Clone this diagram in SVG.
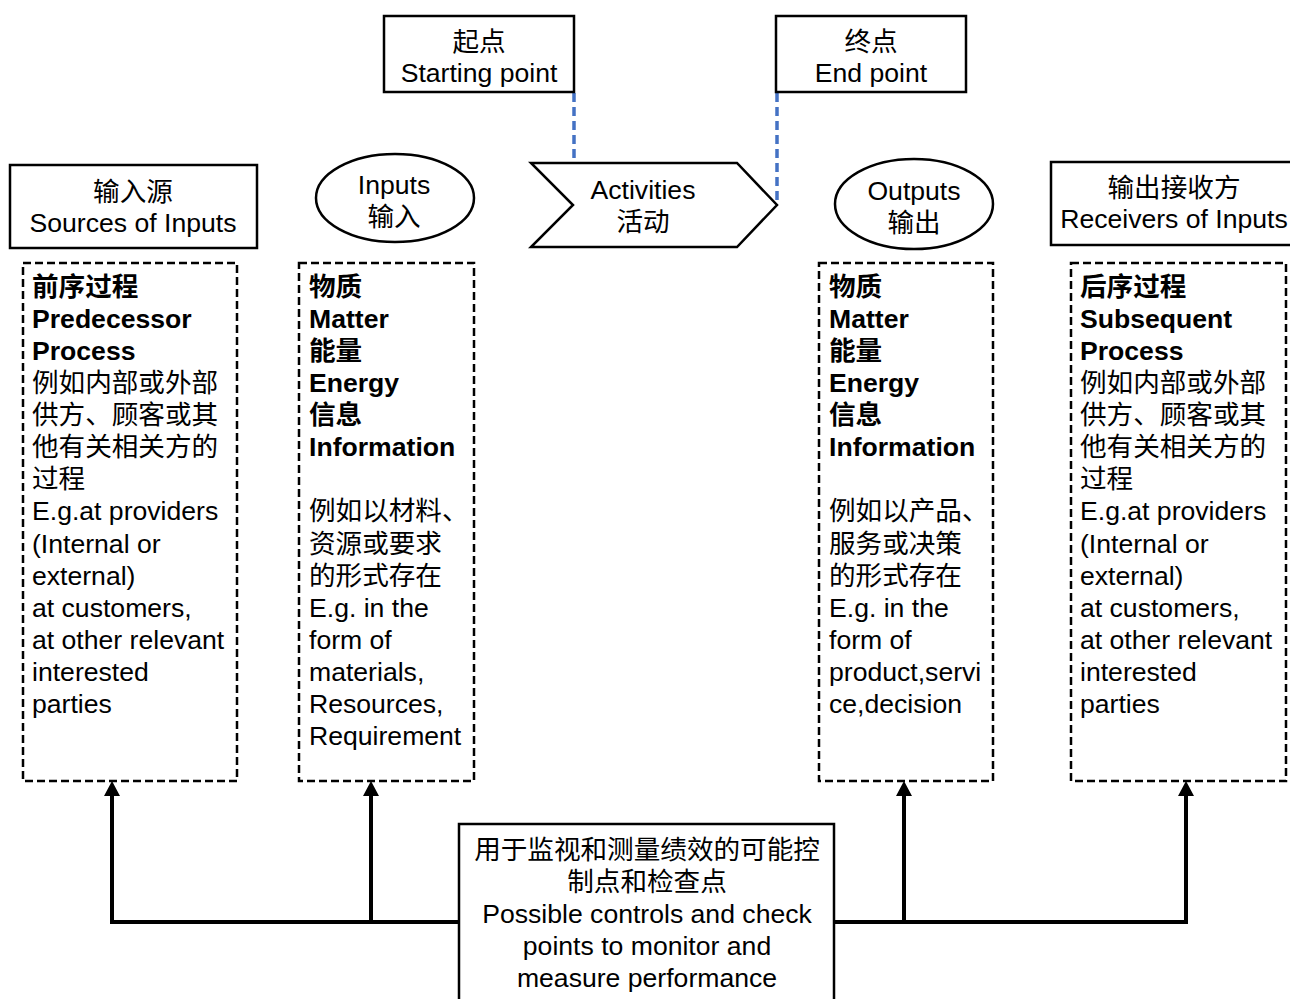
<svg xmlns="http://www.w3.org/2000/svg" width="1290" height="999" viewBox="0 0 1290 999">
<style>
text{font-family:"Liberation Sans","Noto Sans CJK SC",Arial,sans-serif;font-size:26.6px;fill:#000}
.c{text-anchor:middle}
.b{font-weight:bold}
.box{fill:#fff;stroke:#000;stroke-width:2.5}
.dash{fill:#fff;stroke:#000;stroke-width:2.5;stroke-dasharray:8 4}
.blue{fill:none;stroke:#4472c4;stroke-width:3.5;stroke-dasharray:9 5}
.conn{fill:none;stroke:#000;stroke-width:4}
</style>
<defs>
<marker id="ah" markerUnits="userSpaceOnUse" markerWidth="16" markerHeight="16" refX="0" refY="8" orient="auto" viewBox="0 0 16 16">
<path d="M0,0 L15,8 L0,16 z" fill="#000"/>
</marker>
<clipPath id="clipS"><rect x="384" y="16" width="190" height="71"/></clipPath>
<clipPath id="clipE"><rect x="776" y="16" width="190" height="71"/></clipPath>
</defs>

<g id="connectors">
<path class="blue" d="M574,93 V205"/>
<path class="blue" d="M777,93 V205"/>
<path class="conn" d="M459,922 H112 V796" marker-end="url(#ah)"/>
<path class="conn" d="M371,922 V796" marker-end="url(#ah)"/>
<path class="conn" d="M834,922 H1186 V796" marker-end="url(#ah)"/>
<path class="conn" d="M904,922 V796" marker-end="url(#ah)"/>
</g>

<g id="start">
<rect class="box" x="384" y="16" width="190" height="76"/>
<g clip-path="url(#clipS)">
<text class="c" x="479" y="51">起点</text>
<text class="c" x="479" y="82">Starting point</text>
</g>
</g>

<g id="end">
<rect class="box" x="776" y="16" width="190" height="76"/>
<g clip-path="url(#clipE)">
<text class="c" x="871" y="51">终点</text>
<text class="c" x="871" y="82">End point</text>
</g>
</g>

<g id="activities">
<polygon class="box" points="531,163 737,163 777,205 737,247 531,247 573,205"/>
<text class="c" x="643" y="199">Activities</text>
<text class="c" x="643" y="231">活动</text>
</g>

<g id="sources">
<rect class="box" x="10" y="165" width="247" height="83"/>
<text class="c" x="133" y="201">输入源</text>
<text class="c" x="133" y="232">Sources of Inputs</text>
</g>

<g id="inputs">
<ellipse class="box" cx="395" cy="198" rx="79" ry="44"/>
<text class="c" x="394" y="194">Inputs</text>
<text class="c" x="394" y="226">输入</text>
</g>

<g id="outputs">
<ellipse class="box" cx="914" cy="204" rx="79" ry="45"/>
<text class="c" x="914" y="200">Outputs</text>
<text class="c" x="914" y="232">输出</text>
</g>

<g id="receivers">
<rect class="box" x="1051" y="162" width="245" height="83"/>
<text class="c" x="1174" y="197">输出接收方</text>
<text class="c" x="1174" y="228">Receivers of Inputs</text>
</g>

<g id="predecessor">
<rect class="dash" x="23" y="263" width="214" height="518"/>
<text x="32" y="296" class="b">前序过程</text>
<text x="32" y="328" class="b">Predecessor</text>
<text x="32" y="360" class="b">Process</text>
<text x="32" y="392">例如内部或外部</text>
<text x="32" y="424">供方、顾客或其</text>
<text x="32" y="456">他有关相关方的</text>
<text x="32" y="488">过程</text>
<text x="32" y="520">E.g.at providers</text>
<text x="32" y="553">(Internal or</text>
<text x="32" y="585">external)</text>
<text x="32" y="617">at customers,</text>
<text x="32" y="649">at other relevant</text>
<text x="32" y="681">interested</text>
<text x="32" y="713">parties</text>
</g>

<g id="input-detail">
<rect class="dash" x="299" y="263" width="175" height="518"/>
<text x="309" y="296" class="b">物质</text>
<text x="309" y="328" class="b">Matter</text>
<text x="309" y="360" class="b">能量</text>
<text x="309" y="392" class="b">Energy</text>
<text x="309" y="424" class="b">信息</text>
<text x="309" y="456" class="b">Information</text>
<text x="309" y="520">例如以材料、</text>
<text x="309" y="553">资源或要求</text>
<text x="309" y="585">的形式存在</text>
<text x="309" y="617">E.g. in the</text>
<text x="309" y="649">form of</text>
<text x="309" y="681">materials,</text>
<text x="309" y="713">Resources,</text>
<text x="309" y="745">Requirement</text>
</g>

<g id="output-detail">
<rect class="dash" x="819" y="263" width="174" height="518"/>
<text x="829" y="296" class="b">物质</text>
<text x="829" y="328" class="b">Matter</text>
<text x="829" y="360" class="b">能量</text>
<text x="829" y="392" class="b">Energy</text>
<text x="829" y="424" class="b">信息</text>
<text x="829" y="456" class="b">Information</text>
<text x="829" y="520">例如以产品、</text>
<text x="829" y="553">服务或决策</text>
<text x="829" y="585">的形式存在</text>
<text x="829" y="617">E.g. in the</text>
<text x="829" y="649">form of</text>
<text x="829" y="681">product,servi</text>
<text x="829" y="713">ce,decision</text>
</g>

<g id="subsequent">
<rect class="dash" x="1071" y="263" width="215" height="518"/>
<text x="1080" y="296" class="b">后序过程</text>
<text x="1080" y="328" class="b">Subsequent</text>
<text x="1080" y="360" class="b">Process</text>
<text x="1080" y="392">例如内部或外部</text>
<text x="1080" y="424">供方、顾客或其</text>
<text x="1080" y="456">他有关相关方的</text>
<text x="1080" y="488">过程</text>
<text x="1080" y="520">E.g.at providers</text>
<text x="1080" y="553">(Internal or</text>
<text x="1080" y="585">external)</text>
<text x="1080" y="617">at customers,</text>
<text x="1080" y="649">at other relevant</text>
<text x="1080" y="681">interested</text>
<text x="1080" y="713">parties</text>
</g>

<g id="controls">
<rect class="box" x="459" y="824" width="375" height="190"/>
<text class="c" x="647" y="859">用于监视和测量绩效的可能控</text>
<text class="c" x="647" y="891">制点和检查点</text>
<text class="c" x="647" y="923">Possible controls and check</text>
<text class="c" x="647" y="955">points to monitor and</text>
<text class="c" x="647" y="987">measure performance</text>
</g>
</svg>
